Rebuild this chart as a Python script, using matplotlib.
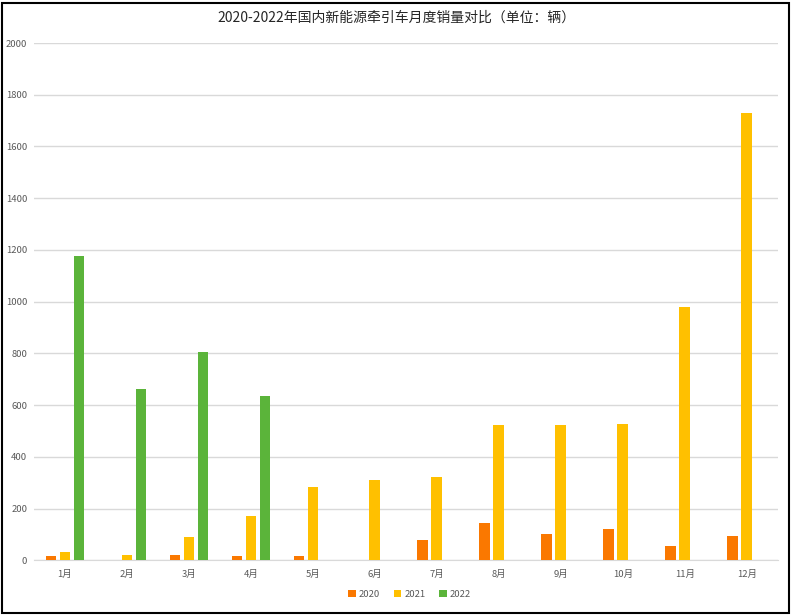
import numpy as np
import matplotlib.pyplot as plt
from matplotlib.patches import Rectangle

plt.rcParams['font.family'] = ['Noto Sans CJK SC', 'DejaVu Sans']

# 数据（单位：辆）
months = ['1月', '2月', '3月', '4月', '5月', '6月', '7月', '8月', '9月', '10月', '11月', '12月']
sales_2020 = [16, 0, 19, 16, 16, 0, 77, 143, 101, 120, 54, 93]
sales_2021 = [32, 20, 89, 170, 284, 311, 323, 524, 524, 528, 978, 1728]
sales_2022 = [1178, 662, 805, 636, 0, 0, 0, 0, 0, 0, 0, 0]
years = ['2020', '2021', '2022']
colors = ['#FA7800', '#FFC000', '#5BB43A']

fig = plt.figure(figsize=(7.92, 6.15), dpi=100)
ax = fig.add_axes([0.043, 0.089, 0.939, 0.841])

x = np.arange(len(months))
step = 0.226
width = 0.175
for i, (vals, lab, c) in enumerate(zip([sales_2020, sales_2021, sales_2022], years, colors)):
    ax.bar(x + (i - 1) * step, vals, width, color=c, label=lab, zorder=3)

ax.set_xlim(-0.5, len(months) - 0.5)
ax.set_ylim(0, 2000)
ax.set_yticks(range(0, 2001, 200))
ax.set_xticks(x)
ax.set_xticklabels(months)
ax.tick_params(axis='both', length=0, labelsize=6.8, colors='#595959')
ax.tick_params(axis='x', pad=7)
ax.tick_params(axis='y', pad=5)
ax.grid(axis='y', color='#D9D9D9', linewidth=1, zorder=0)
for s in ['top', 'right', 'left']:
    ax.spines[s].set_visible(False)
ax.spines['bottom'].set_color('#D9D9D9')

fig.suptitle('2020-2022年国内新能源牵引车月度销量对比（单位：辆）', y=0.983,
             fontsize=10, color='#262626', fontweight='medium')

fig.legend(loc='lower center', bbox_to_anchor=(0.517, 0.012), ncol=3, frameon=False,
           fontsize=6.8, handlelength=0.8, handleheight=0.8, handletextpad=0.3,
           columnspacing=1.5, labelcolor='#595959')

fig.add_artist(Rectangle((0.003, 0.004), 0.993, 0.991, transform=fig.transFigure,
                         fill=False, edgecolor='black', linewidth=1.5))

fig.savefig('out.png', dpi=100)
